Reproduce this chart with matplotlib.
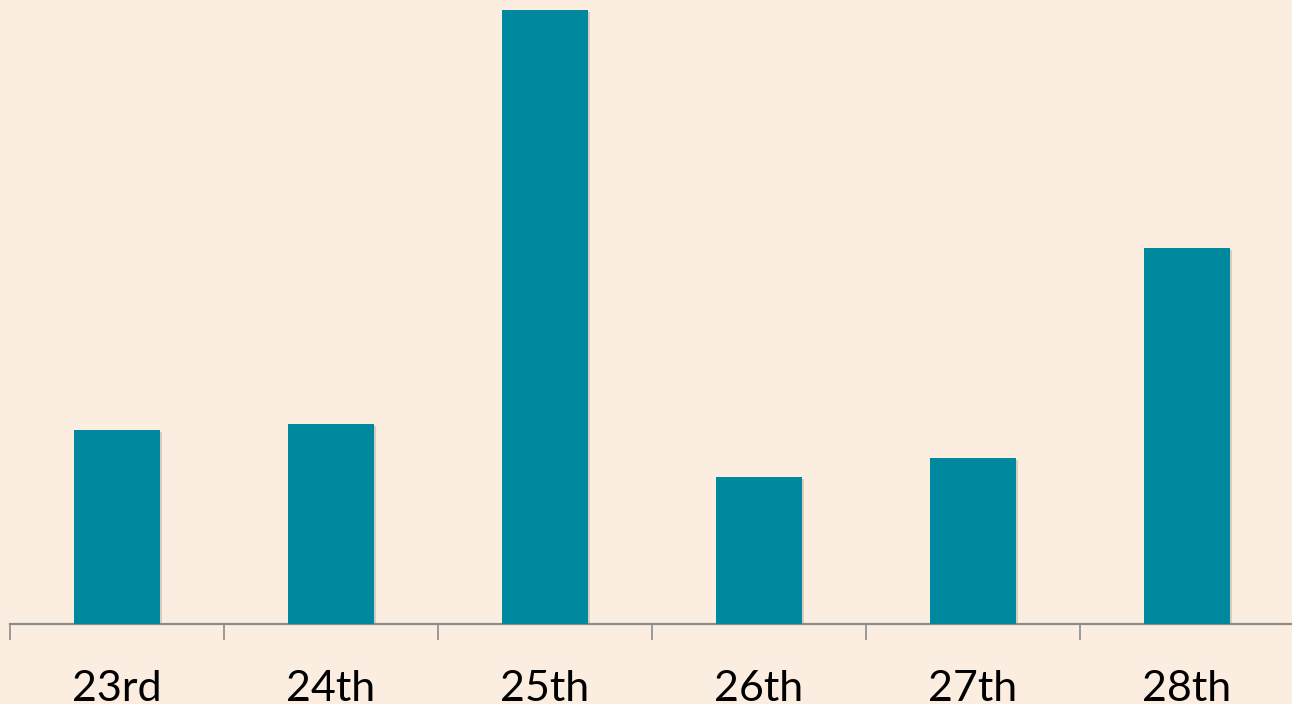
import matplotlib.pyplot as plt
import matplotlib.patheffects as pe
import numpy as np

days = ['23rd', '24th', '25th', '26th', '27th', '28th']
values = [194, 200, 614, 147, 166, 376]

bg = '#FBEEE1'
bar_color = '#00889E'

fig = plt.figure(figsize=(12.92, 7.04), dpi=100, facecolor=bg)
ax = fig.add_axes([10 / 1292, 80 / 704, 1284 / 1292, 624 / 704], facecolor=bg)

x = np.arange(len(days))
bars = ax.bar(x, values, width=0.4, color=bar_color, zorder=3)
for b in bars:
    b.set_path_effects([pe.SimplePatchShadow(offset=(1.5, -1.5), shadow_rgbFace='#9a8f85', alpha=0.35),
                        pe.Normal()])

ax.set_xlim(-0.5, len(days) - 0.5)
ax.set_ylim(0, 624)

for side in ['top', 'right', 'left']:
    ax.spines[side].set_visible(False)
ax.spines['bottom'].set_color('#8c8c8c')
ax.spines['bottom'].set_linewidth(1.6)

ax.set_yticks([])
ax.set_xticks(x)
ax.set_xticklabels(days, fontsize=31, family='Lato', color='black')
ax.tick_params(axis='x', which='major', length=0, pad=33)
ax.set_xticks(np.arange(-0.5, len(days) + 0.5, 1), minor=True)
ax.tick_params(axis='x', which='minor', length=11.5, width=1.2, color='#8c8c8c')

fig.savefig('out.png', dpi=100, facecolor=bg)
